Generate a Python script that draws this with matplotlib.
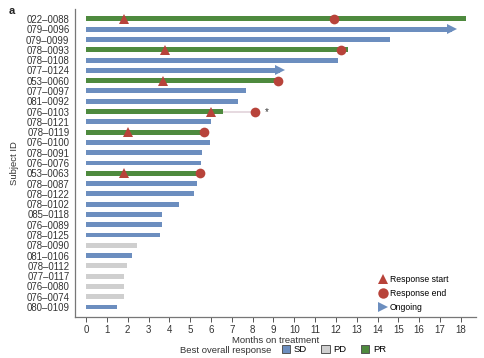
import numpy as np
import matplotlib.pyplot as plt
from matplotlib.patches import Patch
from matplotlib.lines import Line2D

plt.rcParams['font.family'] = ['Liberation Sans', 'DejaVu Sans']

# Swimmer data (months on treatment)
subjects = ['022–0088', '079–0096', '079–0099', '078–0093', '078–0108', '077–0124',
            '053–0060', '077–0097', '081–0092', '076–0103', '078–0121', '078–0119',
            '076–0100', '078–0091', '076–0076', '053–0063', '078–0087', '078–0122',
            '078–0102', '085–0118', '076–0089', '078–0125', '078–0090', '081–0106',
            '078–0112', '077–0117', '076–0080', '076–0074', '080–0109']
months = [18.25, 17.6, 14.6, 12.6, 12.1, 9.3, 9.3, 7.7, 7.3, 6.6, 6.0, 5.8,
          5.95, 5.55, 5.5, 5.45, 5.35, 5.2, 4.45, 3.65, 3.65, 3.55, 2.45, 2.2,
          1.95, 1.8, 1.8, 1.8, 1.5]
response = ['PR', 'SD', 'SD', 'PR', 'SD', 'SD', 'PR', 'SD', 'SD', 'PR', 'SD', 'PR',
            'SD', 'SD', 'SD', 'PR', 'SD', 'SD', 'SD', 'SD', 'SD', 'SD', 'PD', 'SD',
            'PD', 'PD', 'PD', 'PD', 'SD']
resp_start = {'022–0088': 1.8, '078–0093': 3.8, '053–0060': 3.7, '076–0103': 6.0,
              '078–0119': 2.0, '053–0063': 1.8}
resp_end = {'022–0088': 11.9, '078–0093': 12.25, '053–0060': 9.2, '076–0103': 8.1,
            '078–0119': 5.65, '053–0063': 5.45}
ongoing = ['079–0096', '077–0124']
xticks = list(range(0, 19))

colors = {'SD': '#6c8ebf', 'PD': '#cfcfcf', 'PR': '#4e8a3e'}
red = '#b8433a'

fig = plt.figure(figsize=(4.84, 3.58), dpi=100)
ax = fig.add_axes([0.155, 0.1145, 0.828, 0.8605])

y = np.arange(len(subjects))
ax.barh(y, months, height=0.48, color=[colors[r] for r in response], zorder=2)

for i, s in enumerate(subjects):
    if s in ongoing:
        ax.plot(months[i], i, marker='>', color=colors['SD'], markersize=7.5,
                markeredgewidth=0, zorder=3)
    if s in resp_start:
        ax.plot(resp_start[s], i, marker='^', color=red, markersize=7,
                markeredgewidth=0, zorder=4)
    if s in resp_end:
        if resp_end[s] > months[i]:
            ax.plot([months[i], resp_end[s]], [i, i], color='#e2d3da', lw=1.2, zorder=1)
            ax.text(resp_end[s] + 0.6, i + 0.1, '*', fontsize=7, ha='center',
                    va='center', color='#333333')
        ax.plot(resp_end[s], i, marker='o', color=red, markersize=7,
                markeredgewidth=0, zorder=4)

ax.set_yticks(y)
ax.set_yticklabels(subjects, fontsize=6.9, color='#333333')
ax.tick_params(axis='y', length=0, pad=4)
ax.set_xticks(xticks)
ax.set_xticklabels([str(t) for t in xticks], fontsize=7, color='#333333')
ax.tick_params(axis='x', direction='out', length=3.5, width=0.7, color='#555555', pad=2)
ax.set_xlim(-0.53, 18.72)
ax.set_ylim(28.97, -0.97)
for side in ['top', 'right']:
    ax.spines[side].set_visible(False)
for side in ['left', 'bottom']:
    ax.spines[side].set_color('#777777')
    ax.spines[side].set_linewidth(0.9)

ax.set_xlabel('Months on treatment', fontsize=6.8, color='#333333', labelpad=1)
ax.set_ylabel('Subject ID', fontsize=6.8, color='#333333', labelpad=5)

marker_handles = [
    Line2D([], [], marker='^', color=red, lw=0, markersize=7.5, markeredgewidth=0),
    Line2D([], [], marker='o', color=red, lw=0, markersize=7.5, markeredgewidth=0),
    Line2D([], [], marker='>', color=colors['SD'], lw=0, markersize=7.5, markeredgewidth=0),
]
ax.legend(marker_handles, ['Response start', 'Response end', 'Ongoing'],
          loc='lower left', bbox_to_anchor=(0.745, 0.0), frameon=False,
          fontsize=6.2, handletextpad=0.3, labelspacing=0.55, handlelength=1.0,
          borderaxespad=0.2)

fig.text(0.372, 0.022, 'Best overall response', fontsize=6.8, color='#333333',
         va='center')
patch_handles = [Patch(facecolor=colors[k], edgecolor='#555555', linewidth=0.7)
                 for k in ['SD', 'PD', 'PR']]
fig.legend(patch_handles, ['SD', 'PD', 'PR'], loc='center left',
           bbox_to_anchor=(0.572, 0.024), ncol=3, frameon=False, fontsize=6.8,
           handlelength=0.9, handleheight=0.9, handletextpad=0.4, columnspacing=1.5,
           borderpad=0.0)

fig.text(0.018, 0.962, 'a', fontsize=8, fontweight='bold', color='#222222')

fig.savefig('out.png', dpi=100)
